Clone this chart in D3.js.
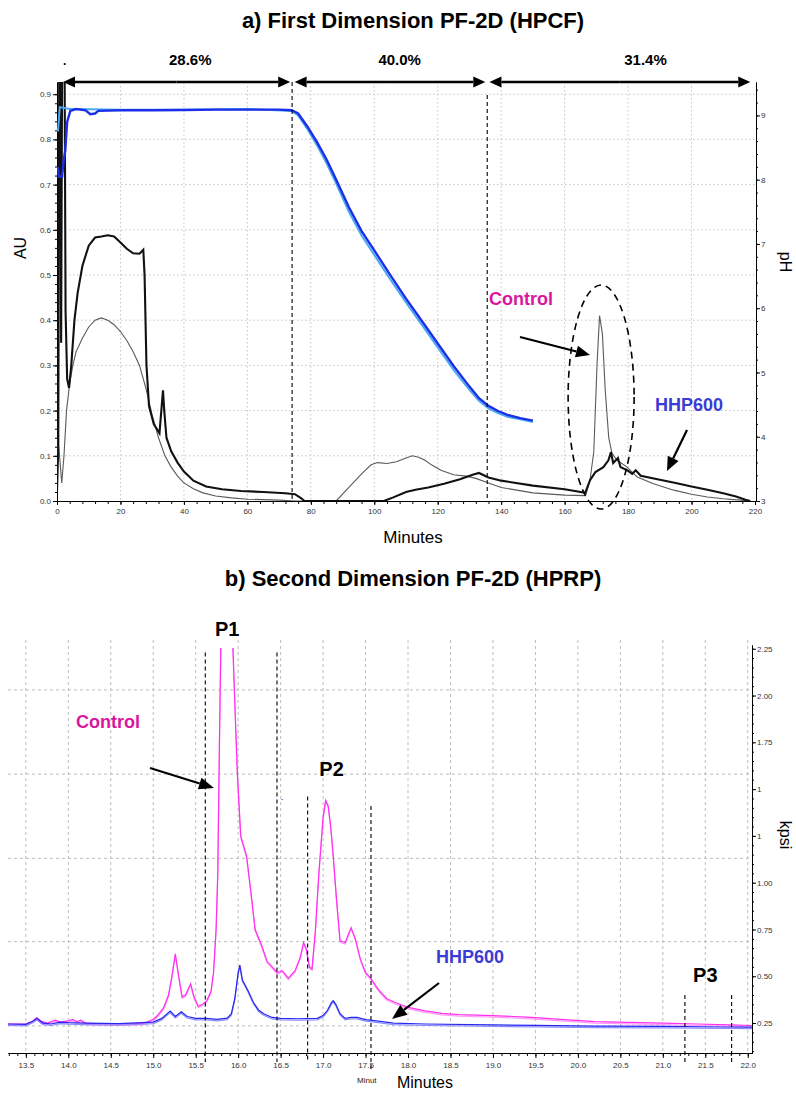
<!DOCTYPE html>
<html>
<head>
<meta charset="utf-8">
<script src="https://cdn.jsdelivr.net/npm/d3@7"></script>
<style>
  body { margin: 0; background: #fff; }
  svg { display: block; }
</style>
</head>
<body>
<div id="chart"></div>
<script>
// ---------- data: panel a (HPCF) ----------
const topMinuteTicks = [0, 20, 40, 60, 80, 100, 120, 140, 160, 180, 200, 220];
const auTicks = [0, 0.1, 0.2, 0.3, 0.4, 0.5, 0.6, 0.7, 0.8, 0.9];
const phTicks = [3, 4, 5, 6, 7, 8, 9];
const fractionBounds = [74.1, 135.6];
const fractionLabels = ["28.6%", "40.0%", "31.4%"];
const fractionLabelAt = [42, 108, 185.5];
const fractionArrows = [[1.9, 73.5], [74.9, 135], [136.3, 218.5]];

// pH gradient, [minutes, pH]
const phDark = [[0.3,8.2],[0.6,8.05],[1.6,8.05],[2.1,8.3],[2.6,8.45],[3.2,8.9],[4.2,9.07],[6,9.1],[9,9.08],[10.5,9.02],[12,9.03],[13,9.07],
  [20,9.08],[30,9.08],[40,9.085],[50,9.09],[60,9.09],[70,9.09],[74,9.08],[76,9.03],[79,8.82],[82,8.58],[85,8.31],[88,8.0],[92,7.57],
  [96,7.2],[100,6.9],[105,6.52],[110,6.15],[115,5.8],[120,5.45],[125,5.1],[130,4.78],[133,4.6],[136,4.48],[139,4.4],[142,4.34],[146,4.29],[150,4.25]];
const phLight = [[0.3,8.75],[0.9,9.13],[2,9.12],[4,9.1],[6,9.1],[20,9.09],[40,9.09],[60,9.1],[74,9.07],[76,9.0],[79,8.78],[82,8.53],
  [85,8.25],[88,7.94],[92,7.5],[96,7.13],[100,6.83],[105,6.45],[110,6.09],[115,5.74],[120,5.39],[125,5.04],[130,4.73],[133,4.56],
  [136,4.44],[139,4.37],[142,4.31],[146,4.27],[150,4.23]];

// absorbance, [minutes, AU]
const hhpTop = [[0,0.02],[0.4,0.12],[0.7,0.95],[1.1,0.95],[1.3,0.35],[1.6,0.95],[2.4,0.95],[2.7,0.42],[3.2,0.27],[3.8,0.25],[4.5,0.3],
  [5.5,0.4],[6.5,0.46],[8,0.52],[10,0.565],[12,0.583],[14,0.585],[16,0.588],[18,0.585],[20,0.572],[22,0.558],[24,0.548],[26,0.547],
  [27.2,0.556],[27.6,0.5],[28.2,0.3],[29,0.21],[30.5,0.17],[32.3,0.15],[33,0.21],[33.4,0.245],[33.8,0.2],[34.5,0.14],[36,0.11],
  [38,0.085],[40,0.065],[43,0.045],[47,0.032],[52,0.026],[58,0.022],[65,0.02],[72,0.017],[75,0.015],[77,0.006],[78,0],[103,0],
  [106,0.008],[110,0.02],[113,0.025],[117,0.03],[122,0.038],[127,0.048],[131,0.058],[133,0.062],[136,0.052],[140,0.045],[150,0.034],
  [160,0.026],[166.5,0.018],[168,0.046],[169.7,0.064],[172.2,0.075],[173.8,0.09],[174.6,0.108],[175.3,0.084],[176.8,0.095],[177.6,0.075],
  [179.7,0.068],[181.3,0.06],[182.4,0.068],[184,0.056],[190,0.047],[195,0.04],[200,0.032],[205,0.025],[210,0.017],[214,0.01],
  [217,0.003],[218.5,0]];
const controlTop = [[0,0.08],[0.3,0.14],[0.8,0.1],[1.5,0.04],[2.2,0.1],[3,0.2],[4,0.26],[5,0.3],[6,0.33],[8,0.36],[10,0.385],[12,0.4],
  [14,0.405],[16,0.4],[18,0.39],[20,0.375],[22,0.355],[24,0.33],[26,0.3],[28,0.25],[30,0.19],[32,0.14],[34,0.1],[36,0.075],[38,0.055],
  [40,0.04],[43,0.027],[46,0.018],[50,0.011],[55,0.007],[60,0.004],[70,0.002],[75,0],[88,0],[92,0.03],[96,0.06],[99,0.08],[101,0.085],
  [104,0.083],[107,0.087],[110,0.095],[112,0.1],[114,0.097],[116,0.09],[118,0.08],[121,0.068],[125,0.058],[129,0.055],[132,0.05],
  [136,0.04],[140,0.03],[150,0.018],[160,0.013],[166.6,0.012],[168,0.046],[169.2,0.11],[170.2,0.3],[171,0.41],[171.9,0.37],[172.8,0.245],
  [173.9,0.14],[174.9,0.106],[176.5,0.09],[179.7,0.075],[181.3,0.064],[182.9,0.053],[188,0.038],[194.4,0.024],[200,0.015],[205,0.009],
  [210,0.005],[215.5,0.002],[218,0]];

// ---------- data: panel b (HPRP) ----------
const bottomMinuteTicks = [13.5,14,14.5,15,15.5,16,16.5,17,17.5,18,18.5,19,19.5,20,20.5,21,21.5,22];
const kpsiTicks = [0.25, 0.5, 0.75, 1.0, 1.25, 1.5, 1.75, 2.0, 2.25];
const kpsiTickLabels = ["0.25", "0.50", "0.75", "1.00", "1", "1", "1.75", "2.00", "2.25"];
const kpsiGrid = [0.235, 0.685, 1.13, 1.58, 2.03];
const peakBounds = [15.613, 16.457, 16.818, 17.564, 21.26, 21.81];
const peakBoundTops = [2.23, 2.23, 1.46, 1.41, 0.4, 0.4];
const peakNames = ["P1", "P2", "P3"];
const peakNameAt = [[15.87, 2.32], [17.1, 1.57], [21.5, 0.47]];

// [minutes, kpsi]
const controlBottom = [[13.29,0.245],[13.5,0.245],[13.58,0.26],[13.63,0.28],[13.68,0.26],[13.75,0.25],[13.85,0.265],[13.9,0.255],
  [14.0,0.262],[14.05,0.27],[14.1,0.258],[14.15,0.265],[14.2,0.25],[14.4,0.245],[14.7,0.245],[14.9,0.25],[15.0,0.27],[15.05,0.29],
  [15.12,0.33],[15.18,0.4],[15.22,0.5],[15.26,0.62],[15.3,0.5],[15.34,0.39],[15.38,0.4],[15.44,0.46],[15.48,0.39],[15.53,0.34],
  [15.58,0.35],[15.63,0.37],[15.68,0.42],[15.71,0.52],[15.74,0.75],[15.76,1.05],[15.78,1.76],[15.8,2.4],[15.86,2.7],[15.92,2.5],
  [15.95,2.1],[15.99,1.59],[16.03,1.25],[16.1,1.14],[16.15,0.95],[16.2,0.75],[16.28,0.66],[16.34,0.58],[16.4,0.55],[16.46,0.52],
  [16.52,0.53],[16.59,0.49],[16.67,0.53],[16.73,0.6],[16.77,0.68],[16.8,0.65],[16.84,0.55],[16.87,0.54],[16.91,0.75],[16.95,1.05],
  [17.0,1.35],[17.03,1.44],[17.06,1.41],[17.09,1.3],[17.12,1.14],[17.16,0.9],[17.2,0.69],[17.26,0.68],[17.33,0.76],[17.38,0.7],
  [17.44,0.59],[17.5,0.52],[17.56,0.49],[17.65,0.43],[17.75,0.38],[17.85,0.36],[17.99,0.335],[18.2,0.315],[18.4,0.302],[18.6,0.295],
  [19.0,0.29],[19.4,0.282],[19.8,0.27],[20.2,0.258],[20.6,0.254],[21.0,0.25],[21.4,0.245],[21.8,0.24],[22.05,0.237]];
const hhpBottom = [[13.29,0.245],[13.5,0.243],[13.58,0.26],[13.63,0.275],[13.7,0.25],[13.8,0.245],[13.9,0.255],[14.0,0.252],
  [14.2,0.25],[14.6,0.247],[15.0,0.255],[15.1,0.275],[15.2,0.314],[15.26,0.285],[15.33,0.31],[15.4,0.285],[15.5,0.275],[15.63,0.275],
  [15.75,0.27],[15.87,0.276],[15.92,0.3],[15.96,0.38],[16.0,0.52],[16.02,0.56],[16.05,0.48],[16.08,0.455],[16.12,0.42],[16.18,0.36],
  [16.24,0.32],[16.3,0.3],[16.4,0.28],[16.5,0.275],[16.7,0.273],[16.93,0.275],[17.0,0.29],[17.05,0.317],[17.1,0.36],[17.12,0.37],
  [17.15,0.35],[17.2,0.3],[17.26,0.275],[17.33,0.28],[17.4,0.28],[17.5,0.268],[17.65,0.26],[17.83,0.25],[18.2,0.245],[19.0,0.24],
  [19.5,0.238],[20.2,0.234],[21.0,0.232],[21.7,0.229],[22.05,0.228]];

const FONT = "'Liberation Sans', Arial, Helvetica, sans-serif";
const MAGENTA = "#d9169c", BLUE = "#3b3bd6";

const svg = d3.select("#chart").append("svg")
    .attr("width", 796)
    .attr("height", 1094)
    .style("font-family", FONT);

// filled arrow head + shaft
function arrow(g, xa, ya, xb, yb, len, half, width) {
    const ang = Math.atan2(yb - ya, xb - xa);
    const bx = xb - len * Math.cos(ang), by = yb - len * Math.sin(ang);
    g.append("line").attr("x1", xa).attr("y1", ya).attr("x2", bx).attr("y2", by)
        .attr("stroke", "#000").attr("stroke-width", width);
    const px = -Math.sin(ang) * half, py = Math.cos(ang) * half;
    g.append("path")
        .attr("d", `M${xb},${yb}L${bx + px},${by + py}L${bx - px},${by - py}Z`)
        .attr("fill", "#000");
}

function styleAxis(g) {
    g.select(".domain").attr("stroke", "#000");
    g.selectAll(".tick line").attr("stroke", "#000");
    g.selectAll(".tick text").attr("font-size", 8).attr("fill", "#333").attr("font-family", FONT);
}

// =================== panel a ===================
const x1 = d3.scaleLinear().domain([0, 220]).range([57, 755]);
const yAU = d3.scaleLinear().domain([0, 0.927]).range([501, 82]);
const yPH = d3.scaleLinear().domain([3, 9.52]).range([501, 82]);

svg.append("text").attr("x", 413).attr("y", 28).attr("text-anchor", "middle")
    .attr("font-size", 22).attr("font-weight", "bold").text("a) First Dimension PF-2D (HPCF)");

const gridA = svg.append("g").attr("stroke", "#c4c4c4").attr("stroke-dasharray", "1.5,2.5");
gridA.selectAll("line.h").data(auTicks.slice(1)).join("line")
    .attr("x1", 57).attr("x2", 755).attr("y1", d => yAU(d)).attr("y2", d => yAU(d));
gridA.selectAll("line.v").data(topMinuteTicks.slice(1, -1)).join("line").attr("class", "v")
    .attr("y1", 82).attr("y2", 501).attr("x1", d => x1(d)).attr("x2", d => x1(d));

// axes
svg.append("g").attr("transform", "translate(0,501)")
    .call(d3.axisBottom(x1).tickValues(d3.range(0, 221, 4)).tickSize(3).tickFormat("").tickSizeOuter(0)).call(styleAxis);
svg.append("g").attr("transform", "translate(0,501)")
    .call(d3.axisBottom(x1).tickValues(topMinuteTicks).tickSize(4).tickPadding(3).tickFormat(d3.format("d")).tickSizeOuter(0)).call(styleAxis);
svg.append("g").attr("transform", "translate(57,0)")
    .call(d3.axisLeft(yAU).tickValues(d3.range(0, 46).map(i => i * 0.02)).tickSize(2).tickFormat("").tickSizeOuter(0)).call(styleAxis);
svg.append("g").attr("transform", "translate(57,0)")
    .call(d3.axisLeft(yAU).tickValues(auTicks).tickSize(4).tickPadding(2).tickFormat(d3.format(".1f")).tickSizeOuter(0)).call(styleAxis);
svg.append("g").attr("transform", "translate(756,0)")
    .call(d3.axisRight(yPH).tickValues(d3.range(0, 33).map(i => 3 + i * 0.2)).tickSize(2).tickFormat("").tickSizeOuter(0)).call(styleAxis);
svg.append("g").attr("transform", "translate(756,0)")
    .call(d3.axisRight(yPH).tickValues(phTicks).tickSize(4).tickPadding(1).tickFormat(d3.format("d")).tickSizeOuter(0)).call(styleAxis);

svg.append("text").attr("transform", "translate(26,248) rotate(-90)").attr("text-anchor", "middle")
    .attr("font-size", 16).text("AU");
svg.append("text").attr("transform", "translate(780,262) rotate(90)").attr("text-anchor", "middle")
    .attr("font-size", 16).text("pH");
svg.append("text").attr("x", 413).attr("y", 543).attr("text-anchor", "middle").attr("font-size", 17).text("Minutes");

// traces
svg.append("clipPath").attr("id", "clipA").append("rect").attr("x", 57).attr("y", 82).attr("width", 699).attr("height", 419);
const plotA = svg.append("g").attr("clip-path", "url(#clipA)");
const lineAU = d3.line().x(d => x1(d[0])).y(d => yAU(d[1]));
const linePH = d3.line().x(d => x1(d[0])).y(d => yPH(d[1]));

plotA.append("path").datum(controlTop).attr("d", lineAU).attr("fill", "none").attr("stroke", "#5a5a5a").attr("stroke-width", 1.1);
plotA.append("path").datum(hhpTop).attr("d", lineAU).attr("fill", "none").attr("stroke", "#111").attr("stroke-width", 2.1);
plotA.append("path").datum(phLight).attr("d", linePH).attr("fill", "none").attr("stroke", "#4aa8f5").attr("stroke-width", 2);
plotA.append("path").datum(phDark).attr("d", linePH).attr("fill", "none").attr("stroke", "#1c2fe6").attr("stroke-width", 2.4);

// fraction boundaries & labels
svg.selectAll("line.fb").data(fractionBounds).join("line").attr("class", "fb")
    .attr("x1", d => x1(d)).attr("x2", d => x1(d))
    .attr("y1", (d, i) => i === 0 ? 82 : 95).attr("y2", 501)
    .attr("stroke", "#000").attr("stroke-width", 1.1).attr("stroke-dasharray", "4,3");
const arrowsA = svg.append("g");
fractionArrows.forEach(([a, b]) => {
    const xa = x1(a), xb = x1(b), y = 82, m = (xa + xb) / 2;
    arrow(arrowsA, m, y, xa, y, 12, 5.5, 2.6);
    arrow(arrowsA, m, y, xb, y, 12, 5.5, 2.6);
});
svg.selectAll("text.frac").data(fractionLabels).join("text").attr("class", "frac")
    .attr("x", (d, i) => x1(fractionLabelAt[i])).attr("y", 65).attr("text-anchor", "middle")
    .attr("font-size", 15).attr("font-weight", "bold").text(d => d);
svg.append("text").attr("x", 63).attr("y", 65).attr("font-size", 12).attr("font-weight", "bold").text(".");

// annotations
svg.append("ellipse").attr("cx", x1(171.5)).attr("cy", yAU(0.23)).attr("rx", 33).attr("ry", 112)
    .attr("fill", "none").attr("stroke", "#000").attr("stroke-width", 1.6).attr("stroke-dasharray", "7,5");
svg.append("text").attr("x", 489).attr("y", 305).attr("font-size", 18).attr("font-weight", "bold")
    .attr("fill", MAGENTA).text("Control");
svg.append("text").attr("x", 655).attr("y", 411).attr("font-size", 18).attr("font-weight", "bold")
    .attr("fill", BLUE).text("HHP600");
const annA = svg.append("g");
arrow(annA, 520, 337, 590, 355, 14, 6, 2.2);
arrow(annA, 687, 430, 667, 471, 14, 6, 2.2);

// =================== panel b ===================
const x2 = d3.scaleLinear().domain([13.29, 22.05]).range([8, 752]);
const yK = d3.scaleLinear().domain([0.09, 2.27]).range([1053, 645]);

svg.append("text").attr("x", 413).attr("y", 586).attr("text-anchor", "middle")
    .attr("font-size", 22).attr("font-weight", "bold").text("b) Second Dimension PF-2D (HPRP)");

const gridB = svg.append("g").attr("stroke", "#bdbdbd").attr("stroke-dasharray", "3,3");
gridB.selectAll("line.h").data(kpsiGrid).join("line")
    .attr("x1", 8).attr("x2", 752).attr("y1", d => yK(d)).attr("y2", d => yK(d));
gridB.selectAll("line.v").data(bottomMinuteTicks).join("line").attr("class", "v")
    .attr("y1", 640).attr("y2", 1053).attr("x1", d => x2(d)).attr("x2", d => x2(d));

svg.append("g").attr("transform", "translate(0,1053)")
    .call(d3.axisBottom(x2).tickValues(d3.range(0, 88).map(i => 13.3 + i * 0.1)).tickSize(3).tickFormat("").tickSizeOuter(0)).call(styleAxis);
svg.append("g").attr("transform", "translate(0,1053)")
    .call(d3.axisBottom(x2).tickValues(bottomMinuteTicks).tickSize(5).tickPadding(4).tickFormat(d3.format(".1f")).tickSizeOuter(0)).call(styleAxis);
svg.append("g").attr("transform", "translate(752,0)")
    .call(d3.axisRight(yK).tickValues(d3.range(0, 44).map(i => 0.1 + i * 0.05)).tickSize(2).tickFormat("").tickSizeOuter(0)).call(styleAxis);
svg.append("g").attr("transform", "translate(752,0)")
    .call(d3.axisRight(yK).tickValues(kpsiTicks).tickSize(4).tickPadding(1)
        .tickFormat((d, i) => kpsiTickLabels[i]).tickSizeOuter(0)).call(styleAxis);

svg.append("text").attr("transform", "translate(780,835) rotate(90)").attr("text-anchor", "middle")
    .attr("font-size", 16).text("kpsi");
svg.append("text").attr("x", 425).attr("y", 1088).attr("text-anchor", "middle").attr("font-size", 16).text("Minutes");
svg.append("text").attr("x", 357).attr("y", 1083).attr("font-size", 8).attr("fill", "#222").text("Minut");

svg.append("clipPath").attr("id", "clipB").append("rect").attr("x", 8).attr("y", 648).attr("width", 744).attr("height", 405);
const plotB = svg.append("g").attr("clip-path", "url(#clipB)");
const lineK = d3.line().x(d => x2(d[0])).y(d => yK(d[1]));
plotB.append("path").datum(controlBottom).attr("d", lineK).attr("transform", "translate(0,1.5)")
    .attr("fill", "none").attr("stroke", "#ff9cf5").attr("stroke-width", 1.2);
plotB.append("path").datum(controlBottom).attr("d", lineK)
    .attr("fill", "none").attr("stroke", "#ff2ef0").attr("stroke-width", 1.2);
plotB.append("path").datum(hhpBottom).attr("d", lineK).attr("transform", "translate(0,1.5)")
    .attr("fill", "none").attr("stroke", "#8c8cff").attr("stroke-width", 1.2);
plotB.append("path").datum(hhpBottom).attr("d", lineK)
    .attr("fill", "none").attr("stroke", "#2626f0").attr("stroke-width", 1.2);

svg.selectAll("line.pb").data(peakBounds).join("line").attr("class", "pb")
    .attr("x1", d => x2(d)).attr("x2", d => x2(d))
    .attr("y1", (d, i) => yK(peakBoundTops[i])).attr("y2", (d, i) => i === 3 ? 1072 : 1062)
    .attr("stroke", "#000").attr("stroke-width", 1.1).attr("stroke-dasharray", "4,3");
svg.selectAll("text.pk").data(peakNames).join("text").attr("class", "pk")
    .attr("x", (d, i) => x2(peakNameAt[i][0])).attr("y", (d, i) => yK(peakNameAt[i][1]))
    .attr("text-anchor", "middle").attr("font-size", 20).attr("font-weight", "bold").text(d => d);
svg.append("text").attr("x", x2(16.5)).attr("y", yK(1.44)).attr("font-size", 9).text(".");

svg.append("text").attr("x", 76).attr("y", 728).attr("font-size", 18).attr("font-weight", "bold")
    .attr("fill", MAGENTA).text("Control");
svg.append("text").attr("x", 436).attr("y", 963).attr("font-size", 18).attr("font-weight", "bold")
    .attr("fill", BLUE).text("HHP600");
const annB = svg.append("g");
arrow(annB, 150, 768, 214, 788, 15, 6, 2.2);
arrow(annB, 439, 983, 392, 1019, 15, 6, 2.2);
</script>
</body>
</html>
